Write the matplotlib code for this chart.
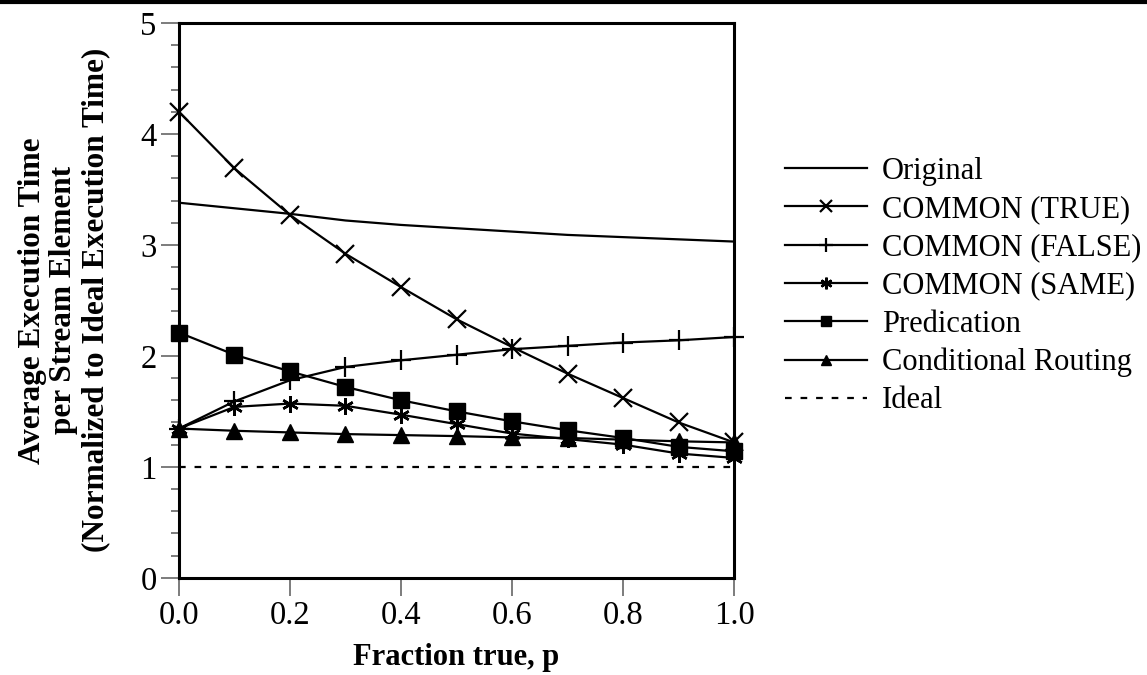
# -*- coding: utf-8 -*-
# execution time vs fraction true

import numpy as np
import matplotlib
matplotlib.use('Agg')
import matplotlib.pyplot as plt
from matplotlib.lines import Line2D

plt.rcParams['font.family'] = ['Liberation Serif', 'DejaVu Serif']

p = [0.0, 0.1, 0.2, 0.3, 0.4, 0.5, 0.6, 0.7, 0.8, 0.9, 1.0]
original = [3.38, 3.33, 3.28, 3.22, 3.18, 3.15, 3.12, 3.09, 3.07, 3.05, 3.03]
common_true = [4.20, 3.69, 3.27, 2.92, 2.62, 2.33, 2.08, 1.84, 1.62, 1.40, 1.22]
common_false = [1.345, 1.59, 1.78, 1.90, 1.96, 2.01, 2.06, 2.09, 2.12, 2.14, 2.17]
common_same = [1.345, 1.54, 1.57, 1.55, 1.47, 1.385, 1.30, 1.25, 1.20, 1.12, 1.08]
predication = [2.21, 2.01, 1.86, 1.72, 1.60, 1.50, 1.41, 1.33, 1.26, 1.18, 1.14]
cond_routing = [1.345, 1.325, 1.31, 1.295, 1.286, 1.277, 1.265, 1.26, 1.245, 1.23, 1.22]
ideal = [1.0] * len(p)

fig = plt.figure(figsize=(11.47, 6.75), dpi=100)
ax = fig.add_axes([0.156, 0.144, 0.484, 0.822])

lw = 1.6
ax.plot(p, original, 'k-', lw=lw, label='Original')
ax.plot(p, common_true, 'k-', lw=lw, marker='x', ms=13, mew=1.6, clip_on=False, label='COMMON (TRUE)')
ax.plot(p, common_false, 'k-', lw=lw, marker='+', ms=14, mew=1.6, clip_on=False, label='COMMON (FALSE)')
ax.plot(p, common_same, 'k-', lw=lw, marker=(6, 2, 0), ms=12, mew=1.8, clip_on=False, label='COMMON (SAME)')
ax.plot(p, predication, 'k-', lw=lw, marker='s', ms=11, clip_on=False, label='Predication')
ax.plot(p, cond_routing, 'k-', lw=lw, marker='^', ms=11, clip_on=False, label='Conditional Routing')
ax.plot(p, ideal, 'k', lw=1.6, ls=(0, (3, 4)), label='Ideal')

ax.set_xlim(0, 1.0)
ax.set_ylim(0, 5)
ax.set_xticks(np.arange(0, 1.01, 0.2))
ax.set_xticklabels(['0.0', '0.2', '0.4', '0.6', '0.8', '1.0'])
ax.set_yticks(range(0, 6))
ax.set_yticks(np.arange(0, 5.01, 0.2), minor=True)
ax.tick_params(axis='both', which='major', labelsize=23.5, length=13, width=1.2,
               color='#666666', direction='out', pad=3)
ax.tick_params(axis='y', which='minor', length=6, width=1.2, color='#666666')
for s in ax.spines.values():
    s.set_linewidth(2.2)

ax.set_xlabel('Fraction true, p', fontsize=22, fontweight='bold')
ax.xaxis.set_label_coords(0.5, -0.117)
ax.set_ylabel('Average Execution Time\nper Stream Element\n(Normalized to Ideal Execution Time)',
              fontsize=22.5, fontweight='bold', linespacing=1.12)
ax.yaxis.set_label_coords(-0.124, 0.5)

leg = ax.legend(loc='center left', bbox_to_anchor=(0.684, 0.576), bbox_transform=fig.transFigure,
                frameon=False, fontsize=22, handlelength=2.7, handletextpad=0.48,
                labelspacing=0.30, markerscale=0.7, borderpad=0, borderaxespad=0)

# top rule line
fig.add_artist(Line2D([0, 1], [0.997, 0.997], color='k', lw=3, transform=fig.transFigure))

fig.savefig('out.png', dpi=100)
